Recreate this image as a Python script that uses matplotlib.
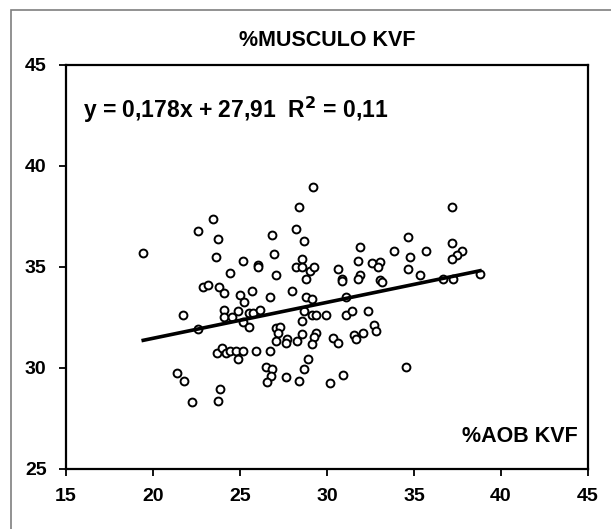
import matplotlib
matplotlib.use("Agg")
import matplotlib.pyplot as plt
from matplotlib.patches import Rectangle
import numpy as np

plt.rcParams['font.family'] = ['Liberation Sans', 'DejaVu Sans']

x_aob = [19.44, 21.40, 21.78, 22.22, 22.60, 21.74, 22.60,
         28.41, 23.47, 23.72, 26.82, 28.20, 28.66, 23.60, 25.19, 26.02, 26.02,
         26.93, 24.41, 27.05, 28.56, 28.20, 28.56, 29.00, 29.23, 28.77, 22.89,
         23.16, 23.81, 24.06, 25.00, 25.67, 25.23, 26.70, 27.97, 28.77, 29.12,
         24.06, 24.06, 24.52, 24.90, 25.54, 25.77, 26.15, 25.19, 25.54, 28.66,
         29.12, 29.35, 28.54, 27.05, 27.30, 27.17, 27.05, 27.72, 27.64, 28.29,
         28.56, 29.35, 29.23, 29.12, 23.70, 23.95, 24.20, 24.41, 24.75, 24.87,
         25.19, 25.92, 26.70, 28.89, 26.48, 26.82, 28.66, 26.76, 26.57, 27.64,
         28.41, 23.83, 23.72,
         34.63, 31.88, 33.85, 35.67, 34.75, 31.76, 32.57, 33.03, 32.91, 30.63,
         34.63, 31.90, 31.76, 30.84, 30.84, 33.05, 33.16, 35.32, 31.07, 29.92,
         31.07, 31.42, 32.34, 30.36, 30.61, 31.53, 31.65, 32.09, 32.70, 32.82,
         34.52, 30.94, 30.15,
         37.17, 37.17, 37.74, 37.49, 37.17, 36.69, 37.26, 38.79,
         29.21]
y_musculo = [35.71, 29.77, 29.36, 28.30, 36.80, 32.62, 31.92,
             37.99, 37.39, 36.40, 36.60, 36.88, 36.29, 35.51, 35.30, 35.11, 35.00,
             35.63, 34.72, 34.62, 35.40, 35.02, 35.02, 34.82, 35.02, 34.42, 34.03,
             34.11, 34.01, 33.73, 33.63, 33.83, 33.25, 33.51, 33.83, 33.51, 33.42,
             32.87, 32.54, 32.54, 32.84, 32.74, 32.74, 32.87, 32.29, 32.05, 32.82,
             32.62, 32.62, 32.34, 31.98, 32.05, 31.72, 31.35, 31.45, 31.22, 31.34,
             31.67, 31.75, 31.52, 31.17, 30.76, 31.01, 30.76, 30.86, 30.86, 30.45,
             30.86, 30.86, 30.86, 30.45, 30.07, 29.95, 29.95, 29.60, 29.29, 29.57,
             29.36, 28.96, 28.37,
             36.50, 36.01, 35.79, 35.81, 35.51, 35.30, 35.21, 35.23, 35.02, 34.90,
             34.90, 34.62, 34.41, 34.41, 34.31, 34.36, 34.24, 34.62, 33.53, 32.62,
             32.62, 32.84, 32.84, 31.47, 31.25, 31.65, 31.42, 31.75, 32.14, 31.85,
             30.07, 29.67, 29.27,
             37.99, 36.20, 35.81, 35.59, 35.40, 34.41, 34.41, 34.65,
             38.98]

slope = 0.178
intercept = 27.91
equation_text = "y = 0,178x + 27,91  R$^{\\mathbf{2}}$ = 0,11"
title_text = "%MUSCULO KVF"
xlabel_text = "%AOB KVF"
x_ticks = [15, 20, 25, 30, 35, 40, 45]
y_ticks = [25, 30, 35, 40, 45]

fig = plt.figure(figsize=(6.11, 5.29), dpi=100)
fig.patch.set_facecolor('white')
# outer gray frame (cropped at right and bottom)
fig.add_artist(Rectangle((11 / 611, -0.05), 1.1, (529 - 10) / 529 + 0.05,
                         transform=fig.transFigure, fill=False,
                         edgecolor='#7f7f7f', linewidth=1.2))

ax = fig.add_axes([66 / 611, 60 / 529, (588 - 66) / 611, (469 - 65) / 529])
ax.scatter(x_aob, y_musculo, s=32, facecolors='white', edgecolors='black',
           linewidths=1.4, zorder=3)
xl = np.array([min(x_aob), max(x_aob)])
ax.plot(xl, slope * xl + intercept, color='black', linewidth=2.6, zorder=4)

ax.set_xlim(15, 45)
ax.set_ylim(25, 45)
ax.set_xticks(x_ticks)
ax.set_yticks(y_ticks)
ax.tick_params(direction='out', length=5, width=1.3, labelsize=14, pad=9)
for lab in ax.get_xticklabels() + ax.get_yticklabels():
    lab.set_fontweight('bold')
for sp in ax.spines.values():
    sp.set_linewidth(1.6)

ax.text(0.033, 0.888, equation_text, transform=ax.transAxes, fontsize=16.5,
        fontweight='bold', ha='left', va='center')
ax.text(0.98, 0.08, xlabel_text, transform=ax.transAxes, fontsize=15.5,
        fontweight='bold', ha='right', va='center')
fig.text(327 / 611, 1 - 40 / 529, title_text, fontsize=15.5, fontweight='bold',
         ha='center', va='center')

fig.savefig("out.png", dpi=100, facecolor='white')
